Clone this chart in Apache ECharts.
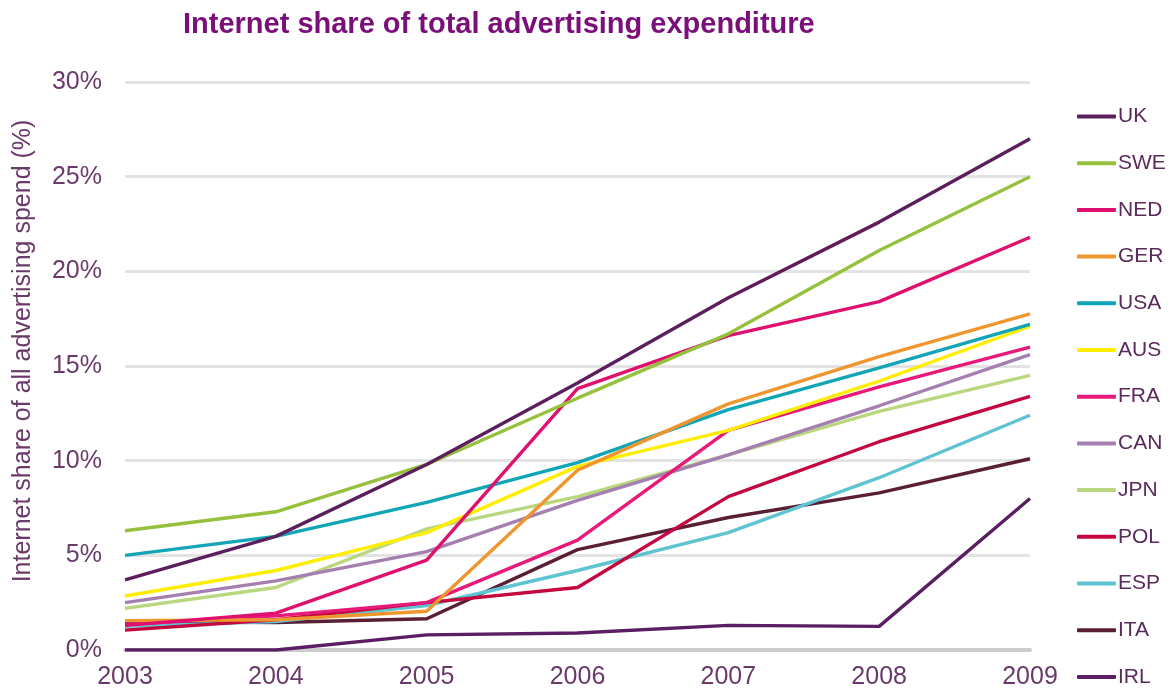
<!DOCTYPE html>
<html>
<head>
<meta charset="utf-8">
<script src="https://cdn.jsdelivr.net/npm/echarts@6/dist/echarts.min.js"></script>
<style>
html,body{margin:0;padding:0;background:#fff;}
#chart{width:1172px;height:693px;}
</style>
</head>
<body>
<div id="chart"></div>
<script>
var years = ['2003','2004','2005','2006','2007','2008','2009'];
var countries = ['UK','SWE','NED','GER','USA','AUS','FRA','CAN','JPN','POL','ESP','ITA','IRL'];
var colors = ['#5c1f5e','#95c13d','#e0106e','#f0962e','#12a5b5','#ffee00','#e8197a','#a47fb0','#b9d77f','#c4073f','#5ec4d2','#5a1f35','#5a1f62'];
var UK  = [3.7, 6.0, 9.8, 14.1, 18.6, 22.6, 27.0];
var SWE = [6.3, 7.3, 9.8, 13.3, 16.7, 21.1, 25.0];
var NED = [1.3, 1.95, 4.75, 13.8, 16.6, 18.4, 21.8];
var GER = [1.55, 1.6, 2.05, 9.5, 13.0, 15.5, 17.75];
var USA = [5.0, 6.0, 7.8, 9.9, 12.7, 14.9, 17.2];
var AUS = [2.85, 4.2, 6.2, 9.7, 11.6, 14.2, 17.1];
var FRA = [1.35, 1.8, 2.5, 5.8, 11.6, 13.9, 16.0];
var CAN = [2.5, 3.65, 5.2, 7.9, 10.3, 12.9, 15.6];
var JPN = [2.2, 3.3, 6.4, 8.1, 10.3, 12.6, 14.5];
var POL = [1.05, 1.6, 2.5, 3.3, 8.1, 11.0, 13.4];
var ESP = [1.25, 1.5, 2.35, 4.2, 6.2, 9.1, 12.4];
var ITA = [1.5, 1.45, 1.65, 5.3, 7.0, 8.3, 10.1];
var IRL = [0, 0, 0.8, 0.9, 1.3, 1.25, 8.0];
var seriesData = [UK, SWE, NED, GER, USA, AUS, FRA, CAN, JPN, POL, ESP, ITA, IRL];
var yTicks = [0, 5, 10, 15, 20, 25, 30];

var labelColor = '#6a3a6a';
var font = 'Liberation Sans, Arial, sans-serif';

var chart = echarts.init(document.getElementById('chart'));
var series = countries.map(function(name, i){
  return {
    name: name,
    type: 'line',
    data: seriesData[i],
    symbol: 'none',
    lineStyle: {width: 3.4, color: colors[i]},
    itemStyle: {color: colors[i]},
    z: 20 - i
  };
});
chart.setOption({
  animation: false,
  backgroundColor: '#fff',
  title: {
    text: 'Internet share of total advertising expenditure',
    left: 178, top: 5,
    textStyle: {fontFamily: font, fontSize: 29, fontWeight: 'bold', color: '#7a0f7a'}
  },
  legend: {
    orient: 'vertical',
    left: 1077, top: 106, height: 587,
    padding: 0,
    itemWidth: 39, itemHeight: 4,
    icon: 'roundRect',
    itemGap: 25.7,
    textStyle: {fontFamily: font, fontSize: 21, color: '#5a2a5a', padding: [0,0,0,-3]},
    data: countries
  },
  grid: {left: 125, right: 142, top: 82, bottom: 43, containLabel: false},
  xAxis: {
    type: 'category',
    data: years,
    boundaryGap: false,
    axisLine: {show: true, lineStyle: {color: '#cccccc', width: 4}},
    axisTick: {show: false},
    axisLabel: {fontFamily: font, fontSize: 25, color: labelColor, margin: 15, showMinLabel: true, showMaxLabel: true},
    splitLine: {show: false}
  },
  yAxis: {
    type: 'value',
    min: 0, max: 30, interval: 5,
    name: 'Internet share of all advertising spend (%)',
    nameLocation: 'middle',
    nameGap: 89,
    nameTextStyle: {fontFamily: font, fontSize: 25, color: labelColor, padding: [0,0,0,30]},
    axisLine: {show: false},
    axisTick: {show: false},
    axisLabel: {fontFamily: font, fontSize: 25, color: labelColor, margin: 23, formatter: '{value}%'},
    splitLine: {lineStyle: {color: '#e3e3e3', width: 3}}
  },
  series: series
});
</script>
</body>
</html>
